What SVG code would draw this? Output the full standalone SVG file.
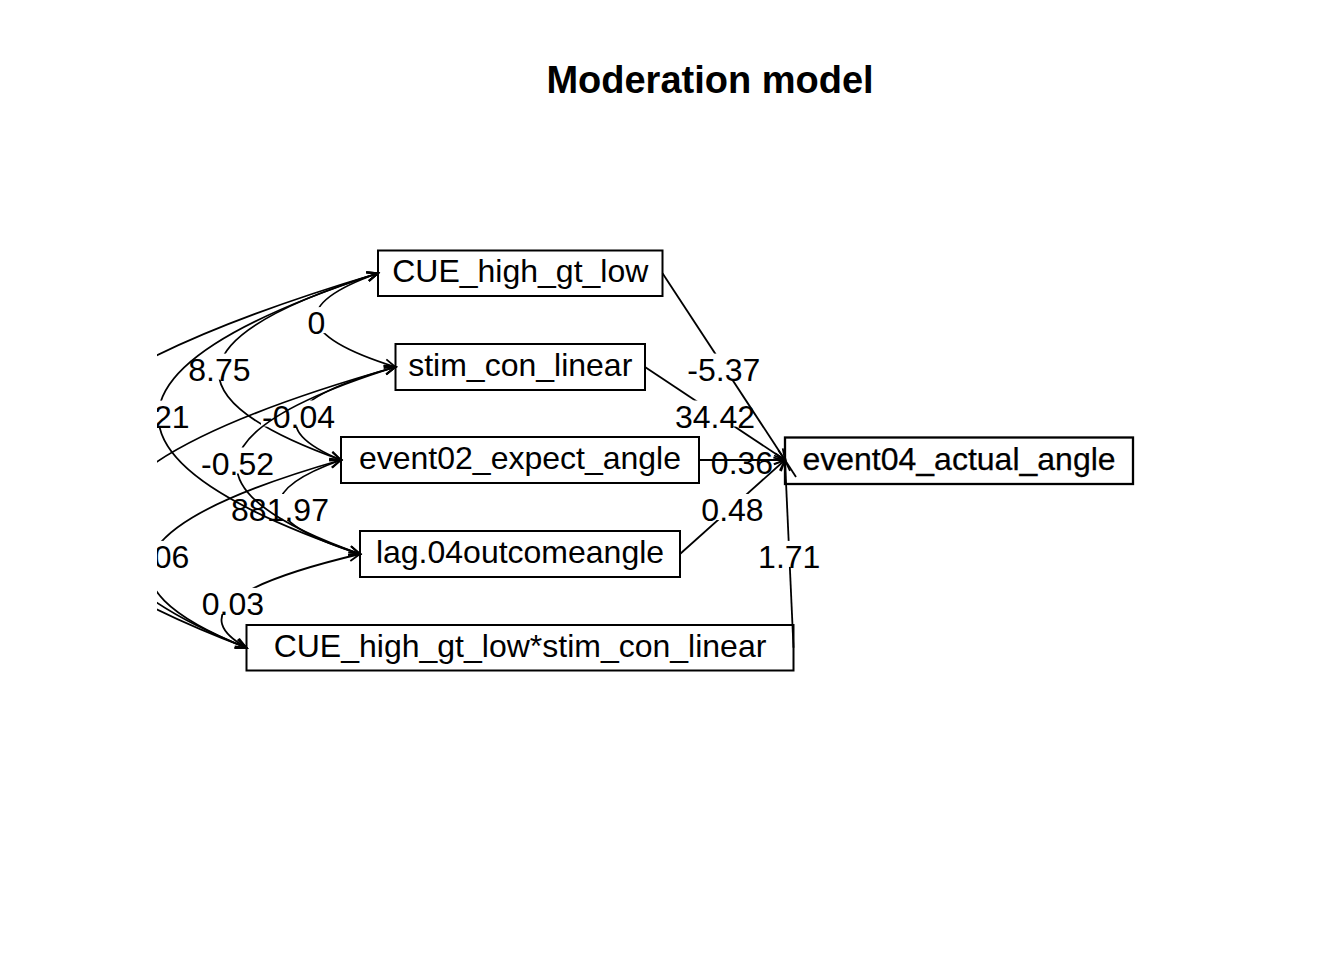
<svg xmlns="http://www.w3.org/2000/svg" width="1344" height="960" viewBox="0 0 1344 960">
<style>
.box{fill:#fff;stroke:#000;stroke-width:2}
.nt{font-family:"Liberation Sans",Arial,Helvetica,sans-serif;font-size:32px;text-anchor:middle;fill:#000}
.el{font-family:"Liberation Sans",Arial,Helvetica,sans-serif;font-size:32px;text-anchor:middle;fill:#000}
.els{font-family:"Liberation Sans",Arial,Helvetica,sans-serif;font-size:32px;text-anchor:start;fill:#000}
.bg{fill:#fff}
.e{fill:none;stroke:#000;stroke-width:1.8}
.arr{marker-end:url(#ah)}
.bi{marker-start:url(#ah);marker-end:url(#ah)}
.title{font-family:"Liberation Sans",Arial,Helvetica,sans-serif;font-size:38px;font-weight:bold;text-anchor:middle;fill:#000}
</style>
<defs>
<marker id="ah" markerUnits="userSpaceOnUse" viewBox="-13 -6 14 12" refX="0" refY="0" markerWidth="14" markerHeight="12" orient="auto-start-reverse" overflow="visible">
<path d="M-11,-4.5 L0,0 L-11,4.5" fill="none" stroke="#000" stroke-width="1.8"/>
</marker>
<clipPath id="plotclip"><rect x="157" y="0" width="1187" height="960"/></clipPath>
</defs>
<rect width="1344" height="960" fill="#fff"/>
<g id="title"><text class="title" x="710" y="93">Moderation model</text></g>
<g id="nodes">
<g id="n_cue"><rect class="box" x="378" y="250.5" width="284.5" height="45.5"/><text class="nt" x="520.25" y="282.3">CUE_high_gt_low</text></g>
<g id="n_stim"><rect class="box" x="395.5" y="344" width="249.5" height="46"/><text class="nt" x="520.25" y="376">stim_con_linear</text></g>
<g id="n_event02"><rect class="box" x="341" y="437" width="358" height="46"/><text class="nt" x="520" y="469">event02_expect_angle</text></g>
<g id="n_lag"><rect class="box" x="360" y="531" width="320" height="46"/><text class="nt" x="520" y="563">lag.04outcomeangle</text></g>
<g id="n_int"><rect class="box" x="246.5" y="625" width="547" height="45.5"/><text class="nt" x="520" y="656.7">CUE_high_gt_low*stim_con_linear</text></g>
<g id="n_event04"><rect class="box" x="785" y="437.5" width="348" height="46.5" style="stroke-width:2.3"/><text class="nt" x="959" y="469.7" style="stroke:#000;stroke-width:0.25">event04_actual_angle</text></g>
</g>
<g id="connectors">
<path class="e arr" d="M645,367 L785,460"/>
<rect class="bg" x="674" y="400.5" width="82" height="26"/><text class="el" x="715" y="427.5">34.42</text>
<path class="e arr" d="M662.5,273.25 L785,460"/>
<path class="e" d="M785,460 L796,477"/>
<rect class="bg" x="686.25" y="353.6" width="75" height="26"/><text class="el" x="723.75" y="380.6">-5.37</text>
<path class="e arr" d="M680,554 L785,460"/>
<rect class="bg" x="700.4" y="494" width="64.3" height="26"/><text class="el" x="732.5" y="521">0.48</text>
<path class="e arr" d="M793.5,647.75 L785,460"/>
<rect class="bg" x="757.1" y="540.9" width="64.3" height="26"/><text class="el" x="789.25" y="567.9">1.71</text>
<text class="el" x="742" y="474">0.36</text>
<path class="e arr" d="M699,460 L785,460"/>
<g clip-path="url(#plotclip)">
<path class="e bi" d="M378,273.25 Q246.1,320.1 395.5,367"/>
<rect class="bg" x="306.5" y="307.1" width="20" height="26"/><text class="el" x="316.4" y="334.1">0</text>
<path class="e bi" d="M378,273.25 Q79.4,366.6 341,460"/>
<rect class="bg" x="187.2" y="353.6" width="64.3" height="26"/><text class="el" x="219.4" y="380.6">8.75</text>
<path class="e bi" d="M395.5,367 Q228.75,413.5 341,460"/>
<rect class="bg" x="261" y="400.5" width="75" height="26"/><text class="el" x="298.5" y="427.5">-0.04</text>
<path class="e bi" d="M341,460 Q209.5,507 360,554"/>
<rect class="bg" x="230" y="494" width="100" height="26"/><text class="el" x="280" y="521">881.97</text>
<path class="e bi" d="M395.5,367 Q97.25,460.5 360,554"/>
<rect class="bg" x="200" y="447.5" width="75" height="26"/><text class="el" x="237.5" y="474.5">-0.52</text>
<path class="e bi" d="M378,273.25 Q-52.1,413.6 360,554"/>
<rect class="bg" x="153" y="400.6" width="38" height="26"/><text class="els" x="153.95" y="427.6">21</text>
<path class="e bi" d="M341,460 Q12.1,553.9 246.5,647.75"/>
<rect class="bg" x="153" y="540.9" width="38" height="26"/><text class="els" x="153.8" y="567.9">06</text>
<path class="e bi" d="M360,554 Q162.6,600.9 246.5,647.75"/>
<rect class="bg" x="200.7" y="587.9" width="64.3" height="26"/><text class="el" x="232.9" y="614.9">0.03</text>
<path class="e bi" d="M378,273.25 Q-249.5,460.5 246.5,647.75"/>
<path class="e bi" d="M395.5,367 Q-100.1,507.4 246.5,647.75"/>
</g>
</g>
</svg>
